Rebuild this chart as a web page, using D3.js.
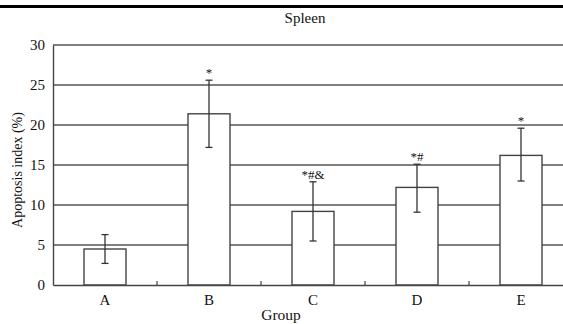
<!DOCTYPE html>
<html><head><meta charset="utf-8">
<script src="https://cdn.jsdelivr.net/npm/d3@7"></script>
<style>
html,body{margin:0;padding:0;background:#fff;}
svg{display:block;}
text{font-family:"Liberation Serif","Times New Roman",serif;fill:#111;}
</style></head>
<body>
<script>
const categories = ["A", "B", "C", "D", "E"];
const means = [4.5, 21.4, 9.2, 12.2, 16.2];
const errHigh = [6.3, 25.6, 12.9, 15.1, 19.6];
const errLow = [2.7, 17.2, 5.5, 9.1, 13.0];
const sigLabels = ["", "*", "*#&", "*#", "*"];
const yTicks = [0, 5, 10, 15, 20, 25, 30];

(function () {
const W = 563, H = 324;
const FONT = "Liberation Serif, Times New Roman, serif";
const svg = d3.select("body").append("svg").attr("width", W).attr("height", H)
  .attr("font-family", FONT);

// top rule
svg.append("line").attr("x1", 0).attr("x2", W).attr("y1", 6.5).attr("y2", 6.5)
  .attr("stroke", "#000").attr("stroke-width", 2.8);

const pLeft = 53, pRight = 573, pTop = 45, pBottom = 285;
const x = d3.scaleBand().domain(categories).range([pLeft, pRight]).paddingInner(0.596).paddingOuter(0.298);
const y = d3.scaleLinear().domain([0, 30]).range([pBottom, pTop]);

// gridlines
svg.append("g").selectAll("line").data(yTicks.filter(d => d > 0)).join("line")
  .attr("x1", pLeft).attr("x2", pRight)
  .attr("y1", d => y(d)).attr("y2", d => y(d))
  .attr("stroke", "#555").attr("stroke-width", 1.4);

// bars
svg.append("g").selectAll("rect").data(categories).join("rect")
  .attr("x", d => x(d)).attr("width", x.bandwidth())
  .attr("y", (d, i) => y(means[i])).attr("height", (d, i) => y(0) - y(means[i]))
  .attr("fill", "#fff").attr("stroke", "#444").attr("stroke-width", 1.4);

// y axis
const yAxis = d3.axisLeft(y).tickValues(yTicks).tickSize(0).tickPadding(8);
const gy = svg.append("g").attr("transform", `translate(${pLeft},0)`).call(yAxis)
  .attr("font-family", FONT).attr("font-size", 15);
gy.select(".domain").attr("stroke", "#444").attr("stroke-width", 1.4);
gy.selectAll("text").attr("fill", "#111");

// x axis with ticks between categories pointing inward
const xAxis = d3.axisBottom(x).tickSize(0).tickPadding(9);
const gx = svg.append("g").attr("transform", `translate(0,${pBottom})`).call(xAxis)
  .attr("font-family", FONT).attr("font-size", 15);
gx.select(".domain").attr("stroke", "#444").attr("stroke-width", 1.4);
gx.selectAll("text").attr("fill", "#111");
const bounds = categories.slice(1).map(c => x(c) - x.step() * x.paddingInner() / 2);
svg.append("g").selectAll("line").data(bounds).join("line")
  .attr("x1", d => d).attr("x2", d => d).attr("y1", pBottom).attr("y2", pBottom - 4)
  .attr("stroke", "#444").attr("stroke-width", 1.2);

// error bars
const cx = d => x(d) + x.bandwidth() / 2;
const eg = svg.append("g").attr("stroke", "#333").attr("stroke-width", 1.3);
categories.forEach((c, i) => {
  eg.append("line").attr("x1", cx(c)).attr("x2", cx(c)).attr("y1", y(errLow[i])).attr("y2", y(errHigh[i]));
  [errLow[i], errHigh[i]].forEach(v => {
    eg.append("line").attr("x1", cx(c) - 3.5).attr("x2", cx(c) + 3.5).attr("y1", y(v)).attr("y2", y(v));
  });
});

// significance labels
svg.append("g").selectAll("text").data(categories).join("text")
  .attr("x", d => cx(d)).attr("y", (d, i) => y(errHigh[i]) - 3)
  .attr("text-anchor", "middle").attr("font-size", 13)
  .text((d, i) => sigLabels[i]);

// title
svg.append("text").attr("x", 305).attr("y", 23).attr("text-anchor", "middle")
  .attr("font-size", 15).text("Spleen");

// axis titles
svg.append("text").attr("x", 281).attr("y", 320).attr("text-anchor", "middle")
  .attr("font-size", 15.5).text("Group");
svg.append("text").attr("transform", "translate(22,170) rotate(-90)").attr("text-anchor", "middle")
  .attr("font-size", 14).text("Apoptosis index (%)");
})();
</script>
</body></html>
